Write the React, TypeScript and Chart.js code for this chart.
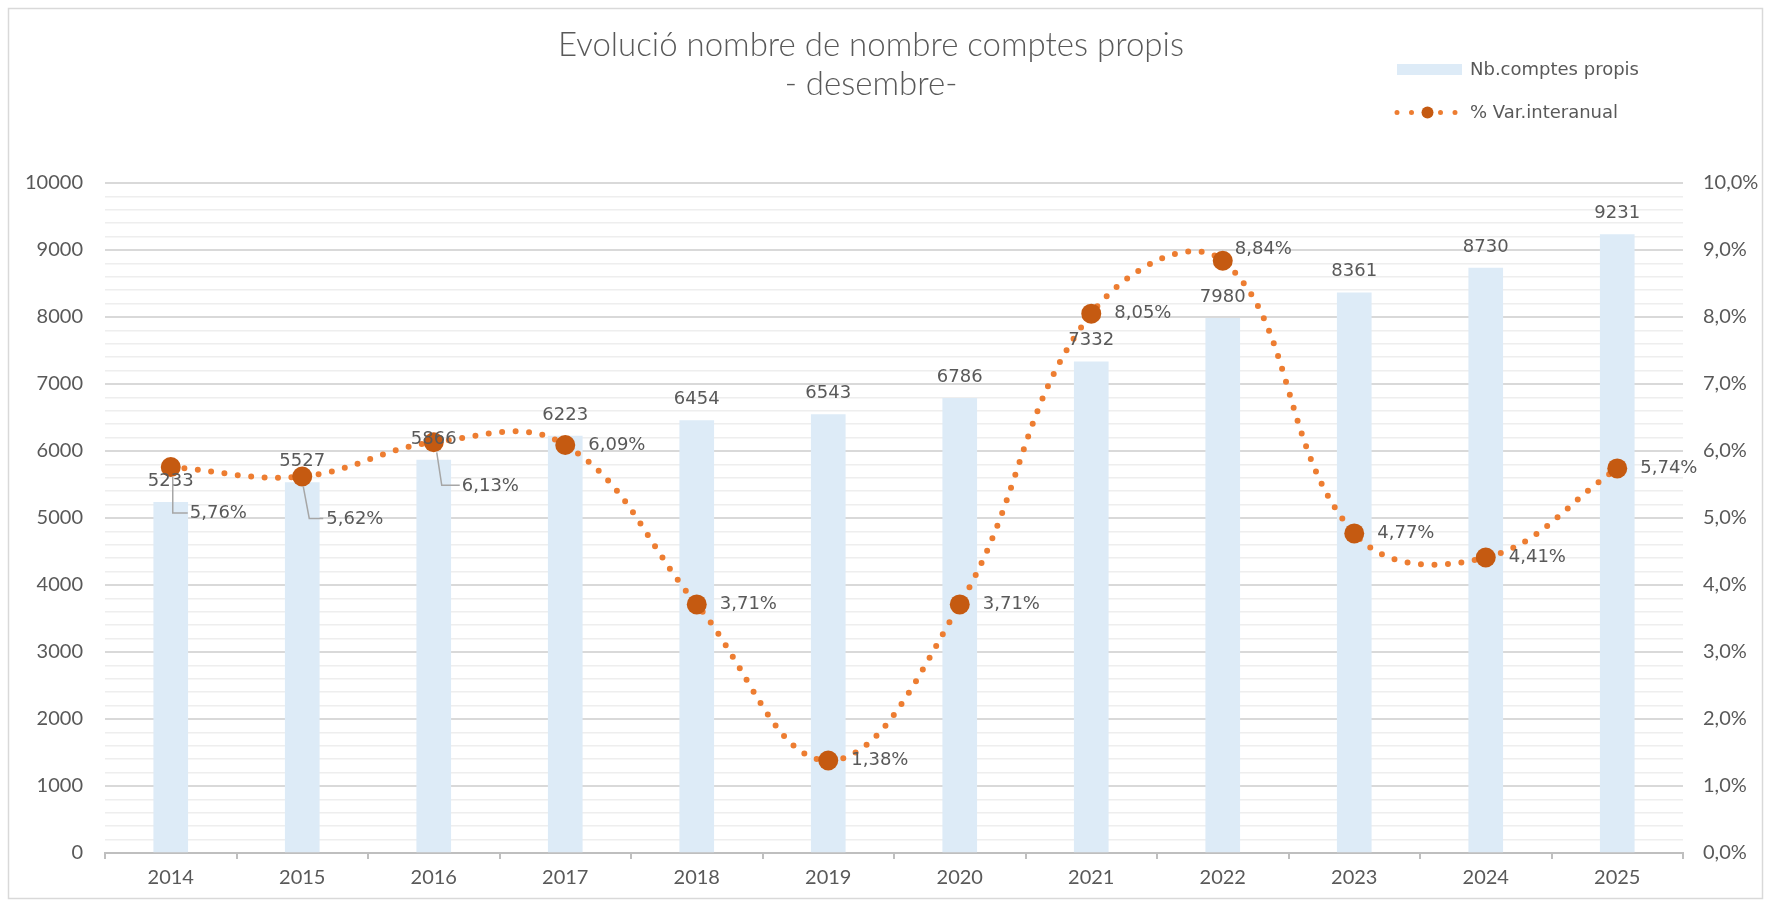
import React, { useEffect, useRef } from 'react';
import { Chart, registerables } from 'chart.js';

Chart.register(...registerables);

// ---- data ----
const years = ['2014', '2015', '2016', '2017', '2018', '2019', '2020', '2021', '2022', '2023', '2024', '2025'];
const accounts = [5233, 5527, 5866, 6223, 6454, 6543, 6786, 7332, 7980, 8361, 8730, 9231];
const variation = [5.76, 5.62, 6.13, 6.09, 3.71, 1.38, 3.71, 8.05, 8.84, 4.77, 4.41, 5.74];
const titleLines = ['Evolució nombre de nombre comptes propis', '- desembre-'];
const barSeriesName = 'Nb.comptes propis';
const lineSeriesName = '% Var.interanual';
const leftAxisMax = 10000;
const leftMajorStep = 1000;
const leftMinorStep = 200;
const rightAxisMax = 10;

// ---- styles ----
const BAR_COLOR = '#DDEBF7';
const LINE_COLOR = '#ED7D31';
const MARKER_COLOR = '#C55A11';
const TEXT_COLOR = '#595959';
const TICK_FONT = 'Lato';
const LABEL_FONT = '"DejaVu Sans"';

// percent-label placement relative to its point (dx, dy) and optional leader line
type Placement = { dx: number; dy: number; leader?: number[][] };
const defaultPlacement: Placement = { dx: 23, dy: 0 };
const pctPlacement: Record<number, Placement> = {
  0: { dx: 19, dy: 46, leader: [[2, 10], [2, 46], [17, 46]] },
  1: { dx: 24, dy: 43, leader: [[1, 10], [7, 42], [21, 42]] },
  2: { dx: 28, dy: 44, leader: [[3, 10], [8, 43], [26, 43]] },
  8: { dx: 12, dy: -11 },
};

const fmtPct = (v: number, d: number) => v.toFixed(d).replace('.', ',') + '%';

const decorPlugin = {
  id: 'decor',
  afterDatasetsDraw(chart: any) {
    const ctx = chart.ctx as CanvasRenderingContext2D;
    const barMeta = chart.getDatasetMeta(0);
    const lineMeta = chart.getDatasetMeta(1);
    ctx.save();
    ctx.font = `18px ${LABEL_FONT}`;
    ctx.fillStyle = TEXT_COLOR;
    ctx.textBaseline = 'middle';
    ctx.textAlign = 'center';
    barMeta.data.forEach((bar: any, i: number) => {
      ctx.fillText(String(accounts[i]), bar.x, bar.y - 21);
    });
    ctx.textAlign = 'left';
    lineMeta.data.forEach((pt: any, i: number) => {
      const p = pctPlacement[i] || defaultPlacement;
      if (p.leader) {
        ctx.strokeStyle = '#A6A6A6';
        ctx.lineWidth = 1.5;
        ctx.beginPath();
        p.leader.forEach(([lx, ly], k) => {
          if (k === 0) ctx.moveTo(pt.x + lx, pt.y + ly);
          else ctx.lineTo(pt.x + lx, pt.y + ly);
        });
        ctx.stroke();
      }
      ctx.fillText(fmtPct(variation[i], 2), pt.x + p.dx, pt.y + p.dy);
    });
    ctx.restore();
  },
  afterDraw(chart: any) {
    const ctx = chart.ctx as CanvasRenderingContext2D;
    ctx.save();
    // outer frame
    ctx.strokeStyle = '#D9D9D9';
    ctx.lineWidth = 1.5;
    ctx.strokeRect(8.5, 8.5, 1754, 890);
    // title
    ctx.fillStyle = TEXT_COLOR;
    ctx.font = `300 33px ${TICK_FONT}`;
    ctx.textAlign = 'center';
    ctx.textBaseline = 'middle';
    ctx.fillText(titleLines[0], 871, 45);
    ctx.fillText(titleLines[1], 871, 84);
    // legend
    ctx.fillStyle = BAR_COLOR;
    ctx.fillRect(1397, 64, 65, 11);
    ctx.strokeStyle = LINE_COLOR;
    ctx.lineWidth = 5;
    ctx.lineCap = 'round';
    ctx.setLineDash([0, 14.5]);
    ctx.beginPath();
    ctx.moveTo(1397, 112.5);
    ctx.lineTo(1458, 112.5);
    ctx.stroke();
    ctx.setLineDash([]);
    ctx.fillStyle = MARKER_COLOR;
    ctx.beginPath();
    ctx.arc(1427.5, 112.5, 6, 0, Math.PI * 2);
    ctx.fill();
    ctx.fillStyle = TEXT_COLOR;
    ctx.font = `18px ${LABEL_FONT}`;
    ctx.textAlign = 'left';
    ctx.fillText(barSeriesName, 1470, 70);
    ctx.fillText(lineSeriesName, 1470, 113);
    ctx.restore();
  },
};

export default function App() {
  const ref = useRef<HTMLCanvasElement>(null);
  useEffect(() => {
    const chart = new Chart(ref.current as HTMLCanvasElement, {
      type: 'bar',
      data: {
        labels: years,
        datasets: [
          {
            type: 'bar',
            label: barSeriesName,
            data: accounts,
            backgroundColor: BAR_COLOR,
            barThickness: 34,
            yAxisID: 'y',
            order: 1,
          },
          {
            type: 'line',
            label: lineSeriesName,
            data: variation,
            yAxisID: 'y1',
            borderColor: LINE_COLOR,
            borderWidth: 6,
            borderDash: [0, 13.5],
            borderCapStyle: 'round',
            tension: 0.4,
            fill: false,
            pointRadius: 10,
            pointBackgroundColor: MARKER_COLOR,
            pointBorderColor: MARKER_COLOR,
            pointBorderWidth: 0,
            order: 0,
          },
        ],
      } as any,
      options: {
        responsive: false,
        animation: false,
        devicePixelRatio: 1,
        layout: { padding: { top: 183, left: 0, right: 0, bottom: 0 } },
        plugins: {
          legend: { display: false },
          title: { display: false },
          tooltip: { enabled: false },
        },
        scales: {
          x: {
            ticks: { font: { family: TICK_FONT, size: 20 }, color: TEXT_COLOR, padding: 7 },
            grid: {
              offset: true,
              drawOnChartArea: false,
              drawTicks: true,
              tickLength: 6,
              color: '#BFBFBF',
              lineWidth: 2,
            },
            border: { display: true, color: '#BFBFBF', width: 2 },
            afterFit: (s: any) => {
              s.height = 49;
            },
          },
          y: {
            position: 'left',
            min: 0,
            max: leftAxisMax,
            afterBuildTicks: (s: any) => {
              const t = [];
              for (let v = 0; v <= leftAxisMax; v += leftMinorStep) t.push({ value: v });
              s.ticks = t;
            },
            ticks: {
              autoSkip: false,
              font: { family: TICK_FONT, size: 20 },
              color: TEXT_COLOR,
              padding: 22,
              callback: (v: any) => (Number(v) % leftMajorStep === 0 ? String(v) : ''),
            },
            grid: {
              drawTicks: false,
              color: (c: any) => (c.tick && c.tick.value % leftMajorStep === 0 ? '#D9D9D9' : '#EEEEEE'),
              lineWidth: (c: any) => (c.tick && c.tick.value % leftMajorStep === 0 ? 2 : 1.5),
            },
            border: { display: false },
            afterFit: (s: any) => {
              s.width = 105;
            },
          },
          y1: {
            position: 'right',
            min: 0,
            max: rightAxisMax,
            ticks: {
              stepSize: 1,
              font: { family: TICK_FONT, size: 20 },
              color: TEXT_COLOR,
              padding: 20,
              callback: (v: any) => fmtPct(Number(v), 1),
            },
            grid: { display: false, drawTicks: false },
            border: { display: false },
            afterFit: (s: any) => {
              s.width = 83;
            },
          },
        },
      } as any,
      plugins: [decorPlugin],
    });
    return () => chart.destroy();
  }, []);
  return (
    <div style={{ position: 'absolute', left: 0, top: 0, width: 1766, height: 902, background: '#fff' }}>
      <canvas ref={ref} width={1766} height={902} style={{ display: 'block' }} />
    </div>
  );
}
